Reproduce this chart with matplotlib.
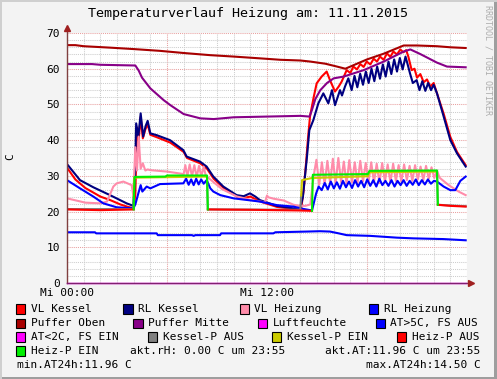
import numpy as np
import matplotlib
matplotlib.use("Agg")
import matplotlib.pyplot as plt
from matplotlib.patches import Rectangle
from matplotlib.ticker import MultipleLocator, FixedLocator

W, H = 497, 379
nan = np.nan
MONO = "DejaVu Sans Mono"

title = "Temperaturverlauf Heizung am: 11.11.2015"
x_tick_hours = [0, 6, 12, 18, 24]
x_tick_labels = ["Mi 00:00", "", "Mi 12:00", "", ""]
y_ticks = [0, 10, 20, 30, 40, 50, 60, 70]

# ---------------- data (hours, degC) ----------------
vl_kessel_t = [0, 0.5, 1.1, 2.0, 2.6, 3.2, 3.6, 4.0, 4.1, 4.2, 4.3, 4.42, 4.55, 4.7, 4.84, 5.0,
               5.4, 6.2, 7.0, 7.2, 8.0, 8.4, 8.8, 9.4, 10.2, 10.6, 11.0, 11.6, 12.6, 13.6, 14.05, 14.2,
               14.35, 14.45, 14.58, 14.8, 14.98, 15.28, 15.58, 15.78, 16.08, 16.3, 16.48, 16.78, 17.0, 17.18,
               17.4, 17.6, 17.8, 17.98, 18.2, 18.4, 18.6, 18.78, 19.0, 19.2, 19.4, 19.58, 19.8, 20.0, 20.18,
               20.35, 20.48, 20.68, 20.85, 21.0, 21.2, 21.4, 21.6, 21.8, 22.0, 22.2, 22.6, 23.0, 23.4, 23.92]
vl_kessel_v = [32.3, 29.0, 26.6, 24.2, 23.2, 22.0, 21.4, 20.9, 25.0, 43.5, 40.0, 46.5, 40.5, 43.0, 44.5, 41.5,
               40.8, 39.3, 36.7, 35.0, 33.5, 32.0, 29.2, 26.6, 24.2, 23.8, 24.2, 22.8, 21.3, 20.7, 20.8, 26.0,
               34.0, 40.0, 46.6, 52.0, 55.9, 57.8, 59.2, 56.8, 53.6, 55.0, 56.4, 59.6, 58.8, 60.6,
               59.8, 61.3, 60.5, 62.0, 61.2, 62.8, 62.0, 63.4, 62.5, 64.3, 63.3, 64.8, 64.0, 65.4, 64.6,
               65.2, 63.4, 59.6, 60.0, 57.5, 58.5, 56.2, 57.0, 55.0, 56.0, 53.1, 47.4, 40.9, 36.7, 33.0]

rl_kessel_t = [0, 0.78, 1.58, 2.58, 3.58, 3.98, 4.08, 4.15, 4.28, 4.42, 4.57, 4.72, 4.84, 5.0, 5.38, 6.18,
               6.98, 7.18, 7.98, 8.38, 8.78, 9.38, 10.18, 10.6, 10.98, 11.3, 11.58, 12.58, 13.58, 14.0, 14.15, 14.4,
               14.54, 14.78, 15.08, 15.38, 15.68, 15.9, 16.08, 16.38, 16.5, 16.68, 16.88, 17.08, 17.25, 17.42,
               17.59, 17.76, 17.93, 18.10, 18.27, 18.44, 18.61, 18.78, 18.95, 19.12, 19.29, 19.46, 19.63, 19.80,
               19.97, 20.14, 20.31, 20.45, 20.58, 20.75, 20.98, 21.15, 21.32, 21.5, 21.67, 21.84, 22.0, 22.2,
               22.6, 23.0, 23.4, 23.92]
rl_kessel_v = [33.3, 28.8, 26.8, 24.6, 22.3, 21.6, 30.0, 44.7, 41.0, 47.5, 41.0, 44.0, 45.4, 41.9, 41.4, 40.0,
               37.2, 35.4, 34.0, 32.6, 29.8, 27.0, 24.6, 24.3, 25.1, 24.2, 23.2, 21.6, 20.9, 21.2, 24.0, 35.4,
               42.8, 45.6, 50.3, 53.1, 50.3, 54.0, 49.8, 54.0, 52.5, 55.0, 57.3, 54.0, 58.0, 54.8,
               58.6, 55.5, 59.2, 56.0, 60.0, 56.5, 60.6, 57.2, 61.2, 57.8, 62.0, 58.5, 62.6, 59.2,
               63.0, 59.8, 63.4, 61.0, 58.7, 56.0, 56.8, 54.0, 56.5, 53.8, 56.0, 54.0, 55.5, 53.1,
               46.6, 40.0, 36.3, 32.6]

vl_heiz_t1 = [0, 1.1, 2.0, 2.4, 2.78, 2.98, 3.38, 3.88, 3.98, 4.1, 4.2, 4.3, 4.42, 4.55, 4.7, 4.84,
              5.0, 6.0, 7.0, 7.1, 7.22, 7.36, 7.5, 7.64, 7.78, 7.92, 8.06, 8.2, 8.34, 8.5, 8.8, 9.3,
              10.2, 11.2, 11.88, 12.0, 12.08, 12.4, 13.0, 13.6, 14.0, 14.3, 14.6]
vl_heiz_v1 = [23.7, 22.5, 22.3, 22.8, 27.0, 27.9, 28.4, 27.4, 24.5, 38.0, 31.5, 41.0, 32.0, 33.5, 31.5, 31.8,
              31.6, 31.2, 30.5, 33.0, 29.8, 33.2, 29.8, 33.0, 29.6, 32.8, 29.8, 32.6, 29.8, 29.4, 28.2, 26.3,
              24.2, 23.1, 22.6, 24.5, 24.0, 23.6, 23.1, 21.9, 21.6, 21.6, 22.0]
vl_heiz_osc_span = (14.8, 22.2)
vl_heiz_osc_v = [30.0, 34.5, 27.5, 33.8, 27.6, 34.2, 28.0, 34.8, 27.8, 35.0,
                 28.2, 34.0, 27.8, 34.4, 28.2, 33.8, 28.0, 34.2, 28.4, 33.6,
                 28.0, 33.8, 28.2, 33.4, 28.0, 33.6, 28.4, 33.2, 28.2, 33.4,
                 28.6, 33.0, 28.4, 33.2, 28.8, 32.8, 28.6, 33.0, 29.0, 32.6,
                 28.8, 32.8, 29.2, 32.4, 29.4, 31.5]
vl_heiz_t3 = [22.35, 22.9, 23.5, 23.92]
vl_heiz_v3 = [29.5, 27.4, 25.6, 24.6]

rl_heiz_t1 = [0, 0.78, 1.58, 2.18, 2.98, 3.98, 4.1, 4.28, 4.42, 4.52, 4.78, 5.0, 5.58, 6.98, 7.15, 7.3,
              7.45, 7.6, 7.75, 7.9, 8.05, 8.2, 8.38, 8.6, 8.78, 9.2, 10.0, 11.58, 12.6, 13.6, 14.0, 14.7, 14.95]
rl_heiz_v1 = [28.8, 26.5, 24.2, 22.3, 21.2, 20.9, 22.0, 25.1, 27.4, 25.6, 27.0, 26.5, 27.7, 27.9, 29.2, 27.5,
              29.0, 27.4, 29.2, 27.6, 29.0, 27.8, 28.8, 26.5, 25.6, 24.6, 23.7, 22.8, 21.8, 21.4, 20.9, 20.3, 25.1]
rl_heiz_osc_span = (15.1, 22.2)
rl_heiz_osc_v = [27.0, 26.0, 28.0, 26.2, 28.4, 26.5, 28.2, 26.4, 28.6, 26.8,
                 28.4, 26.6, 28.8, 27.0, 28.6, 26.8, 29.0, 27.2, 28.8, 27.0,
                 29.2, 27.4, 28.6, 27.2, 28.8, 27.0, 28.6, 27.4, 28.8, 27.2,
                 28.6, 27.5, 29.0, 27.4, 28.8, 27.6, 29.0, 27.8, 28.6, 28.4]
rl_heiz_t3 = [22.6, 23.0, 23.3, 23.6, 23.92]
rl_heiz_v3 = [27.0, 26.0, 26.0, 28.6, 29.8]

puffer_oben_t = [0, 0.5, 1.0, 2.58, 4.0, 5.58, 7.0, 8.58, 10.0, 11.58, 12.8, 14.0, 14.6, 15.5, 16.2, 16.7,
                 17.2, 18.0, 19.0, 20.2, 21.0, 22.2, 23.0, 23.92]
puffer_oben_v = [66.6, 66.6, 66.3, 65.9, 65.5, 65.0, 64.4, 63.8, 63.4, 62.9, 62.5, 62.3, 62.0, 61.4, 60.6, 60.0,
                 61.0, 62.6, 64.2, 66.5, 66.5, 66.3, 66.0, 65.8]

puffer_mitte_t = [0, 1.5, 2.0, 4.1, 4.3, 4.5, 5.0, 5.8, 6.2, 7.0, 8.0, 8.8, 10.0, 14.0, 14.55, 14.7, 14.9,
                  15.2, 15.4, 15.6, 16.0, 16.6, 17.8, 19.0, 20.2, 20.6, 21.2, 22.2, 22.8, 23.92]
puffer_mitte_v = [61.3, 61.3, 61.1, 60.9, 59.5, 57.5, 54.5, 51.2, 49.8, 47.3, 46.1, 45.9, 46.4, 46.8, 46.6, 48.5,
                  51.5, 54.0, 55.0, 56.0, 57.3, 57.8, 59.6, 62.0, 64.8, 65.4, 64.1, 61.7, 60.6, 60.4]

luftfeuchte_t = [0, 23.92]
luftfeuchte_v = [0.0, 0.0]

at_t = [0, 1.68, 1.75, 5.38, 5.45, 7.5, 7.6, 7.7, 9.18, 9.25, 12.38, 12.5, 14.38, 15.18, 15.78, 16.3,
        16.78, 18.18, 19.78, 20.78, 22.58, 23.38, 23.92]
at_v = [14.2, 14.2, 13.9, 13.9, 13.4, 13.4, 13.2, 13.4, 13.4, 13.9, 13.9, 14.2, 14.4, 14.5, 14.4, 13.9,
        13.4, 13.2, 12.7, 12.5, 12.3, 12.1, 11.96]

kessel_p_aus_t = [0, 3.98, 4.0, nan, 8.4, 8.45, 14.0, 14.05, nan, 22.2, 22.25, 23.92]
kessel_p_aus_v = [20.7, 20.7, 24.0, nan, 29.8, 20.6, 20.5, 24.5, nan, 31.2, 21.9, 21.5]
kessel_p_ein_t = [4.0, 4.05, 8.4, nan, 14.05, 14.1, 14.7, 18.05, 18.15, 22.2]
kessel_p_ein_v = [24.0, 29.5, 29.8, nan, 24.5, 28.8, 29.4, 29.9, 31.0, 31.2]
heiz_p_aus_t = [0, 2.0, 4.0, nan, 8.45, 11.0, 14.0, 14.7, nan, 22.25, 23.0, 23.92]
heiz_p_aus_v = [20.6, 20.4, 20.6, nan, 20.6, 20.5, 20.3, 20.2, nan, 21.9, 21.6, 21.4]
heiz_p_ein_t = [4.0, 4.05, 5.9, 6.0, 8.4, 8.45, nan, 14.7, 14.75, 18.05, 18.15, 22.2, 22.25]
heiz_p_ein_v = [20.6, 29.7, 29.8, 30.1, 30.1, 20.6, nan, 20.2, 30.3, 30.5, 31.4, 31.5, 21.9]

akt_rh = luftfeuchte_v[-1]
akt_at = at_v[-1]

# ---------------- colours ----------------
C = {
    "VL Kessel": "#FF0000", "RL Kessel": "#000080", "VL Heizung": "#FF8CAA", "RL Heizung": "#0000FF",
    "Puffer Oben": "#A80000", "Puffer Mitte": "#880088", "Luftfeuchte": "#FF00FF",
    "AT>5C, FS AUS": "#0000FF", "AT<2C, FS EIN": "#FF00FF", "Kessel-P AUS": "#808080",
    "Kessel-P EIN": "#CCCC00", "Heiz-P AUS": "#FF0000", "Heiz-P EIN": "#00EE00",
}

# ---------------- figure ----------------
fig = plt.figure(figsize=(W / 100, H / 100), dpi=100, facecolor="#F3F3F3")

def fx(x):
    return x / W

def fy(y):
    return 1 - y / H

# frame shading
fig.add_artist(Rectangle((0, 0), 1, 2 / H, transform=fig.transFigure, facecolor="#9E9E9E", lw=0))
fig.add_artist(Rectangle((1 - 3 / W, 0), 3 / W, 1, transform=fig.transFigure, facecolor="#9E9E9E", lw=0))
fig.add_artist(Rectangle((0, 0), 2 / W, 1, transform=fig.transFigure, facecolor="#CFCFCF", lw=0))
fig.add_artist(Rectangle((0, 1 - 2 / H), 1, 2 / H, transform=fig.transFigure, facecolor="#CFCFCF", lw=0))

L, R, T, B = 67, 467, 33, 283
ax = fig.add_axes([fx(L), fy(B), (R - L) / W, (B - T) / H])
ax.set_facecolor("white")
ax.set_xlim(0, 24)
ax.set_ylim(0, 70)

ax.xaxis.set_minor_locator(MultipleLocator(1))
ax.yaxis.set_minor_locator(MultipleLocator(2))
ax.set_xticks(x_tick_hours)
ax.set_xticklabels(x_tick_labels)
ax.set_yticks(y_ticks)
ax.set_yticklabels([str(v) for v in y_ticks])
ax.grid(which="minor", color="#CDCDCD", linestyle=(0, (1, 1)), lw=0.75)
ax.grid(which="major", color="#E8A0A0", linestyle=(0, (1, 1)), lw=0.75)
ax.set_axisbelow(True)
ax.tick_params(which="both", length=0)
ax.tick_params(axis="y", pad=5, labelsize=8, labelcolor="black")
ax.tick_params(axis="x", pad=3.5, labelsize=8, labelcolor="black")
for lab in ax.get_xticklabels() + ax.get_yticklabels():
    lab.set_fontfamily(MONO)
for s in ax.spines.values():
    s.set_visible(False)

LW = 1.5
ax.plot(vl_kessel_t, vl_kessel_v, color=C["VL Kessel"], lw=LW)
ax.plot(rl_kessel_t, rl_kessel_v, color=C["RL Kessel"], lw=LW)
vh_t = list(vl_heiz_t1) + list(np.linspace(*vl_heiz_osc_span, len(vl_heiz_osc_v))) + vl_heiz_t3
vh_v = vl_heiz_v1 + vl_heiz_osc_v + vl_heiz_v3
ax.plot(vh_t, vh_v, color=C["VL Heizung"], lw=LW)
rh_t = list(rl_heiz_t1) + list(np.linspace(*rl_heiz_osc_span, len(rl_heiz_osc_v))) + rl_heiz_t3
rh_v = rl_heiz_v1 + rl_heiz_osc_v + rl_heiz_v3
ax.plot(rh_t, rh_v, color=C["RL Heizung"], lw=LW)
ax.plot(puffer_oben_t, puffer_oben_v, color=C["Puffer Oben"], lw=LW)
ax.plot(puffer_mitte_t, puffer_mitte_v, color=C["Puffer Mitte"], lw=LW)
ax.plot(luftfeuchte_t, luftfeuchte_v, color=C["Luftfeuchte"], lw=1.0, clip_on=False)
ax.plot(at_t, at_v, color=C["AT>5C, FS AUS"], lw=LW)
ax.plot(kessel_p_aus_t, kessel_p_aus_v, color=C["Kessel-P AUS"], lw=LW)
ax.plot(kessel_p_ein_t, kessel_p_ein_v, color=C["Kessel-P EIN"], lw=LW)
ax.plot(heiz_p_aus_t, heiz_p_aus_v, color=C["Heiz-P AUS"], lw=LW)
ax.plot(heiz_p_ein_t, heiz_p_ein_v, color=C["Heiz-P EIN"], lw=LW)

# axes with arrows
ax.plot([0, 0], [0, 1 + 5 / 250], transform=ax.transAxes, color="#804040", lw=1.0, clip_on=False)
ax.plot([0, 1 + 4 / 400], [0, 0], transform=ax.transAxes, color="#802070", lw=1.0, clip_on=False)
ax.plot([0], [1 + 5 / 250], transform=ax.transAxes, marker="^", color="#A02020", ms=4.5, clip_on=False)
ax.plot([1 + 4 / 400], [0], transform=ax.transAxes, marker=">", color="#A02020", ms=4.5, clip_on=False)

# texts
fig.text(fx(248), fy(13.5), title, family=MONO, fontsize=9.6, ha="center", va="center")
fig.text(fx(10.7), fy(157), "C", family=MONO, fontsize=8, rotation=90, ha="center", va="center")
fig.text(fx(488), fy(5), "RRDTOOL / TOBI OETIKER", family=MONO, fontsize=6, rotation=270,
         ha="center", va="top", color="#ADADAD")

legend_rows = [
    (309, [("VL Kessel", 15.7), ("RL Kessel", 123.3), ("VL Heizung", 239.5), ("RL Heizung", 368.7)]),
    (323.3, [("Puffer Oben", 15.7), ("Puffer Mitte", 133.3), ("Luftfeuchte", 257.7), ("AT>5C, FS AUS", 375.5)]),
    (337, [("AT<2C, FS EIN", 15.7), ("Kessel-P AUS", 147.7), ("Kessel-P EIN", 272), ("Heiz-P AUS", 397)]),
    (351, [("Heiz-P EIN", 15.7)]),
]
for yrow, items in legend_rows:
    for name, xs in items:
        fig.add_artist(Rectangle((fx(xs), fy(yrow + 4.8)), 9.3 / W, 9.6 / H, transform=fig.transFigure,
                                 facecolor=C[name], edgecolor="black", lw=0.8))
        fig.text(fx(xs + 15), fy(yrow), name, family=MONO, fontsize=8, ha="left", va="center")

fig.text(fx(130), fy(351), f"akt.rH: {akt_rh:.2f} C um 23:55", family=MONO, fontsize=8, ha="left", va="center")
fig.text(fx(480.5), fy(351), f"akt.AT:{akt_at:.2f} C um 23:55", family=MONO, fontsize=8, ha="right", va="center")
fig.text(fx(16.7), fy(365), f"min.AT24h:{min(at_v):.2f} C", family=MONO, fontsize=8, ha="left", va="center")
fig.text(fx(480.5), fy(365), f"max.AT24h:{max(at_v):.2f} C", family=MONO, fontsize=8, ha="right", va="center")

fig.savefig("out.png", dpi=100, facecolor=fig.get_facecolor())
